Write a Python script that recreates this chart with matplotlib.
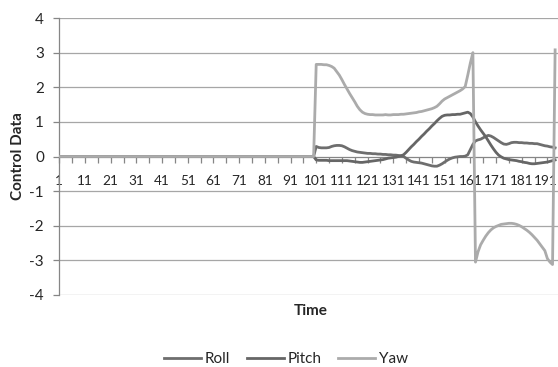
import matplotlib
matplotlib.use("Agg")
import matplotlib.pyplot as plt
import matplotlib.transforms as mtransforms
import numpy as np

# ---- data (categories 1..194) ----
lead_zeros = [0.0] * 100  # categories 1..100 are all zero for every series

roll_tail = [  # categories 101..194
    0.29, 0.26, 0.25, 0.25, 0.25, 0.26, 0.29, 0.31, 0.32, 0.32,
    0.31, 0.28, 0.24, 0.20, 0.17, 0.15, 0.13, 0.12, 0.11, 0.10,
    0.09, 0.09, 0.08, 0.08, 0.07, 0.07, 0.06, 0.06, 0.05, 0.05,
    0.04, 0.04, 0.03, 0.02, 0.00, -0.05, -0.10, -0.14, -0.16, -0.17,
    -0.18, -0.19, -0.21, -0.23, -0.25, -0.27, -0.28, -0.28, -0.25, -0.21,
    -0.16, -0.11, -0.07, -0.04, -0.02, -0.01, 0.00, 0.00, 0.01, 0.05,
    0.20, 0.35, 0.45, 0.48, 0.50, 0.54, 0.58, 0.61, 0.59, 0.55,
    0.50, 0.45, 0.40, 0.36, 0.35, 0.37, 0.40, 0.41, 0.41, 0.40,
    0.40, 0.39, 0.39, 0.38, 0.38, 0.37, 0.37, 0.35, 0.33, 0.31,
    0.30, 0.28, 0.27, 0.25,
]

pitch_tail = [  # categories 101..194
    -0.10, -0.11, -0.11, -0.11, -0.11, -0.12, -0.12, -0.12, -0.12, -0.12,
    -0.12, -0.12, -0.12, -0.13, -0.14, -0.15, -0.16, -0.17, -0.17, -0.16,
    -0.15, -0.14, -0.13, -0.12, -0.11, -0.10, -0.09, -0.07, -0.05, -0.04,
    -0.03, -0.02, 0.00, 0.02, 0.05, 0.12, 0.20, 0.28, 0.35, 0.43,
    0.50, 0.58, 0.65, 0.73, 0.80, 0.88, 0.95, 1.03, 1.10, 1.16,
    1.19, 1.20, 1.20, 1.21, 1.21, 1.22, 1.22, 1.24, 1.26, 1.28,
    1.24, 1.14, 1.00, 0.88, 0.77, 0.67, 0.57, 0.45, 0.33, 0.22,
    0.12, 0.04, -0.01, -0.05, -0.07, -0.09, -0.10, -0.11, -0.12, -0.14,
    -0.15, -0.17, -0.18, -0.20, -0.21, -0.21, -0.20, -0.19, -0.18, -0.17,
    -0.16, -0.14, -0.12, -0.10,
]

yaw_tail = [  # categories 101..194
    2.66, 2.66, 2.66, 2.65, 2.65, 2.63, 2.60, 2.55, 2.45, 2.35,
    2.22, 2.08, 1.95, 1.82, 1.70, 1.58, 1.45, 1.35, 1.28, 1.24,
    1.22, 1.21, 1.21, 1.20, 1.20, 1.20, 1.20, 1.21, 1.20, 1.20,
    1.21, 1.21, 1.21, 1.22, 1.22, 1.23, 1.24, 1.25, 1.26, 1.27,
    1.29, 1.30, 1.32, 1.34, 1.36, 1.38, 1.41, 1.45, 1.52, 1.60,
    1.66, 1.70, 1.74, 1.78, 1.82, 1.86, 1.90, 1.95, 2.02, 2.35,
    2.70, 3.00, -3.05, -2.75, -2.55, -2.42, -2.30, -2.20, -2.12, -2.06,
    -2.02, -1.99, -1.96, -1.95, -1.94, -1.93, -1.93, -1.94, -1.96, -1.99,
    -2.03, -2.08, -2.13, -2.19, -2.26, -2.34, -2.42, -2.52, -2.62, -2.72,
    -2.95, -3.05, -3.12, 3.08,
]

roll = lead_zeros + roll_tail
pitch = lead_zeros + pitch_tail
yaw = lead_zeros + yaw_tail
assert len(roll) == len(pitch) == len(yaw)
categories = np.arange(1, len(yaw) + 1)

series_names = ["Roll", "Pitch", "Yaw"]
label_ticks = list(range(1, 192, 10))
y_ticks = list(range(-4, 5))

# ---- style ----
plt.rcParams['font.family'] = ['Lato', 'DejaVu Sans']
FS = 11
FS_X = 9.8
GRID = "#a6a6a6"
TXT = "#262626"

fig = plt.figure(figsize=(5.58, 3.67), dpi=100)
W, H = 558, 367
left_px, right_px, top_px, bot_px = 59.3, 558, 18, 295
ax = fig.add_axes([left_px / W, 1 - bot_px / H, (right_px - left_px) / W, (bot_px - top_px) / H])

c_roll = "#6e6e6e"
c_pitch = "#666666"
c_yaw = "#ababab"

ax.set_ylim(-4, 4)
ax.set_xlim(1, 1 + (right_px - left_px) / 2.569)

# grid
for y in y_ticks:
    if y != 0:
        ax.axhline(y, color=GRID, lw=0.9, zorder=0)

ax.plot(categories, roll, color=c_roll, lw=2.0, label=series_names[0], zorder=3, solid_joinstyle='round')
ax.plot(categories, pitch, color=c_pitch, lw=2.0, label=series_names[1], zorder=3, solid_joinstyle='round')
ax.plot(categories, yaw, color=c_yaw, lw=2.0, label=series_names[2], zorder=4, solid_joinstyle='round')

# spines
for s in ['top', 'right']:
    ax.spines[s].set_visible(False)
ax.spines['left'].set_color("#868686")
ax.spines['left'].set_linewidth(0.9)
ax.spines['bottom'].set_position(('data', 0))
ax.spines['bottom'].set_color("#868686")
ax.spines['bottom'].set_linewidth(0.9)
ax.spines['bottom'].set_zorder(2)

# y axis
ax.set_yticks(y_ticks)
ax.set_yticklabels([str(v) for v in y_ticks])
ax.tick_params(axis='y', direction='out', length=4, width=0.9, color="#868686",
               labelsize=FS, labelcolor=TXT, pad=7)

# x axis
ax.set_xticks(label_ticks)
ax.set_xticklabels([str(v) for v in label_ticks])
ax.set_xticks(list(range(6, 195, 10)), minor=True)
ax.tick_params(axis='x', which='both', direction='out', length=4, width=0.9, color="#868686")
ax.tick_params(axis='x', which='major', labelsize=FS_X, labelcolor=TXT, pad=9.5)

# nudge the last (edge) label slightly left so it stays inside the picture
last_lbl = ax.xaxis.get_majorticklabels()[-1]
last_lbl.set_transform(last_lbl.get_transform() +
                       mtransforms.ScaledTranslation(-1.5 / 100, 0, fig.dpi_scale_trans))

fig.text(18 / W, 1 - 156 / H, "Control Data", rotation=90, ha='center', va='center',
         fontsize=FS, fontweight='bold', color=TXT)
fig.text(311 / W, 1 - 311 / H, "Time", ha='center', va='center',
         fontsize=FS, fontweight='bold', color=TXT)

leg = fig.legend(loc='center', bbox_to_anchor=(286 / W, 1 - 359 / H), ncol=3, frameon=False,
                 fontsize=FS, handlelength=2.4, handletextpad=0.25, columnspacing=1.1,
                 borderaxespad=0)
for t in leg.get_texts():
    t.set_color(TXT)

fig.savefig("out.png", dpi=100)
